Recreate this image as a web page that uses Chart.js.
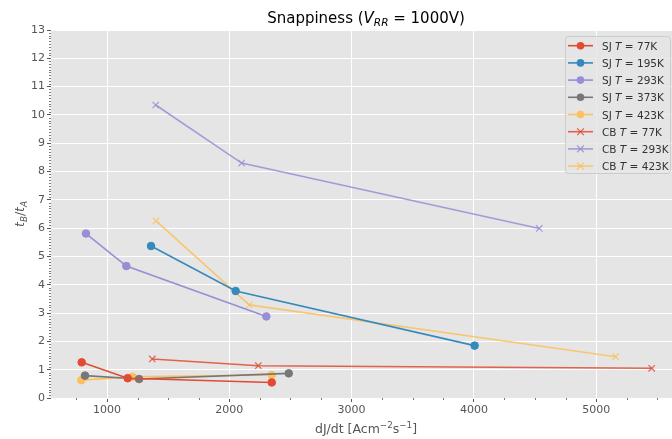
<!DOCTYPE html>
<html>
<head>
<meta charset="utf-8">
<script src="https://cdn.jsdelivr.net/npm/chart.js@4/dist/chart.umd.min.js"></script>
<style>
  body { margin: 0; background: #ffffff; overflow: hidden; }
  #wrap { width: 672px; height: 439px; }
</style>
</head>
<body>
<div id="wrap"><canvas id="snapChart" width="672" height="439"></canvas></div>
<script>
// values
var sj77X = [793, 1169, 2347],  sj77Y = [1.26, 0.70, 0.55];
var sj195X = [1360, 2052, 4006], sj195Y = [5.37, 3.78, 1.85];
var sj293X = [828, 1158, 2303], sj293Y = [5.81, 4.66, 2.88];
var sj373X = [820, 1262, 2486], sj373Y = [0.79, 0.67, 0.87];
var sj423X = [790, 1207, 2347], sj423Y = [0.63, 0.75, 0.81];
var cb77X = [1370, 2237, 5454], cb77Y = [1.38, 1.14, 1.05];
var cb293X = [1398, 2101, 4535], cb293Y = [10.35, 8.30, 5.99];
var cb423X = [1401, 2163, 5159], cb423Y = [6.26, 3.29, 1.46];

var seriesNames = ['SJ', 'SJ', 'SJ', 'SJ', 'SJ', 'CB', 'CB', 'CB'];
var seriesTemps = ['77K', '195K', '293K', '373K', '423K', '77K', '293K', '423K'];
var xTicks = [1000, 2000, 3000, 4000, 5000];

var RED = '#E24A33', BLUE = '#348ABD', PURPLE = '#988ED5', GRAY = '#777777', YELLOW = '#FBC15E';
var FONT = '"DejaVu Sans", sans-serif';

function pts(xs, ys) {
    return xs.map(function (x, i) { return { x: x, y: ys[i] }; });
}

function hexAlpha(hex, a) {
    var r = parseInt(hex.substr(1, 2), 16), g = parseInt(hex.substr(3, 2), 16), b = parseInt(hex.substr(5, 2), 16);
    return 'rgba(' + r + ',' + g + ',' + b + ',' + a + ')';
}

function makeSet(xs, ys, color, cross) {
    var c = cross ? hexAlpha(color, 0.85) : color;
    return {
        data: pts(xs, ys),
        showLine: true,
        borderColor: c,
        backgroundColor: c,
        borderWidth: 1.6,
        pointStyle: cross ? 'crossRot' : 'circle',
        pointRadius: cross ? 4.5 : 3.8,
        pointBorderWidth: cross ? 1.2 : 1,
        pointBorderColor: c,
        pointBackgroundColor: c,
        tension: 0
    };
}

var datasets = [
    makeSet(sj77X, sj77Y, RED, false),
    makeSet(sj195X, sj195Y, BLUE, false),
    makeSet(sj293X, sj293Y, PURPLE, false),
    makeSet(sj373X, sj373Y, GRAY, false),
    makeSet(sj423X, sj423Y, YELLOW, false),
    makeSet(cb77X, cb77Y, RED, true),
    makeSet(cb293X, cb293Y, PURPLE, true),
    makeSet(cb423X, cb423Y, YELLOW, true)
];

// draw a row of text pieces (italic / sub / superscript)
function richWidth(ctx, parts, size) {
    var w = 0;
    parts.forEach(function (p) {
        var s = size * (p.scale || 1);
        ctx.font = (p.italic ? 'italic ' : '') + s + 'px ' + FONT;
        w += ctx.measureText(p.t).width;
    });
    return w;
}

function drawRich(ctx, parts, x, y, size, color) {
    var w = richWidth(ctx, parts, size);
    var cx = x - w / 2;
    ctx.fillStyle = color;
    ctx.textBaseline = 'alphabetic';
    ctx.textAlign = 'left';
    parts.forEach(function (p) {
        var s = size * (p.scale || 1);
        ctx.font = (p.italic ? 'italic ' : '') + s + 'px ' + FONT;
        ctx.fillText(p.t, cx, y + (p.dy || 0) * size);
        cx += ctx.measureText(p.t).width;
    });
}

var decorPlugin = {
    id: 'decor',
    beforeDraw: function (chart) {
        var a = chart.chartArea, ctx = chart.ctx;
        ctx.save();
        ctx.fillStyle = '#E5E5E5';
        ctx.fillRect(a.left, a.top, a.right - a.left, a.bottom - a.top);
        ctx.restore();
    },
    afterDraw: function (chart) {
        var a = chart.chartArea, ctx = chart.ctx;
        var xs = chart.scales.x, ys = chart.scales.y;
        ctx.save();
        // minor ticks
        ctx.strokeStyle = '#555555';
        ctx.lineWidth = 0.8;
        ctx.beginPath();
        for (var v = 750; v <= 5500; v += 250) {
            if (v % 1000 === 0) continue;
            var px = Math.round(xs.getPixelForValue(v)) + 0.5;
            ctx.moveTo(px, a.bottom);
            ctx.lineTo(px, a.bottom + 2);
        }
        for (var k = 1; k < 130; k++) {
            if (k % 10 === 0) continue;
            var py = Math.round(ys.getPixelForValue(k / 10)) + 0.5;
            ctx.moveTo(a.left - 2, py);
            ctx.lineTo(a.left, py);
        }
        ctx.stroke();

        // title
        drawRich(ctx, [
            { t: 'Snappiness (' },
            { t: 'V', italic: true },
            { t: 'RR', italic: true, scale: 0.7, dy: 0.2 },
            { t: ' = 1000V)' }
        ], 366, 23, 15, '#000000');

        // x axis label
        drawRich(ctx, [
            { t: 'dJ/dt [Acm' },
            { t: '\u22122', scale: 0.7, dy: -0.4 },
            { t: 's' },
            { t: '\u22121', scale: 0.7, dy: -0.4 },
            { t: ']' }
        ], 366, 433, 12.5, '#555555');

        // y axis label
        ctx.save();
        ctx.translate(24, (a.top + a.bottom) / 2);
        ctx.rotate(-Math.PI / 2);
        drawRich(ctx, [
            { t: 't', italic: true },
            { t: 'B', italic: true, scale: 0.7, dy: 0.2 },
            { t: '/' },
            { t: 't', italic: true },
            { t: 'A', italic: true, scale: 0.7, dy: 0.2 }
        ], 0, 0, 12.5, '#555555');
        ctx.restore();

        // legend
        var lx = 565, ly = 36, lw = 105, lh = 137;
        ctx.fillStyle = 'rgba(229,229,229,0.8)';
        ctx.strokeStyle = '#CCCCCC';
        ctx.lineWidth = 1;
        ctx.beginPath();
        ctx.roundRect(lx + 0.5, ly + 0.5, lw, lh, 3);
        ctx.fill();
        ctx.stroke();
        datasets.forEach(function (ds, i) {
            var y = 45.7 + i * 17.2;
            ctx.strokeStyle = ds.borderColor;
            ctx.fillStyle = ds.borderColor;
            ctx.lineWidth = 1.6;
            ctx.beginPath();
            ctx.moveTo(568, y);
            ctx.lineTo(593, y);
            ctx.stroke();
            if (ds.pointStyle === 'circle') {
                ctx.beginPath();
                ctx.arc(580.5, y, ds.pointRadius, 0, Math.PI * 2);
                ctx.fill();
            } else {
                ctx.lineWidth = ds.pointBorderWidth;
                var r = ds.pointRadius * 0.75;
                ctx.beginPath();
                ctx.moveTo(580.5 - r, y - r); ctx.lineTo(580.5 + r, y + r);
                ctx.moveTo(580.5 + r, y - r); ctx.lineTo(580.5 - r, y + r);
                ctx.stroke();
            }
            var parts = [
                { t: seriesNames[i] + ' ' },
                { t: 'T', italic: true },
                { t: ' = ' + seriesTemps[i] }
            ];
            var w = richWidth(ctx, parts, 10.5);
            drawRich(ctx, parts, 602 + w / 2, y + 4, 10.5, '#333333');
        });
        ctx.restore();
    }
};

var ctx = document.getElementById('snapChart').getContext('2d');
var snapChart = new Chart(ctx, {
    type: 'scatter',
    data: { datasets: datasets },
    plugins: [decorPlugin],
    options: {
        responsive: false,
        animation: false,
        layout: { autoPadding: false, padding: { top: 30, right: 0, left: 0, bottom: 0 } },
        plugins: {
            legend: { display: false },
            tooltip: { enabled: false },
            title: { display: false }
        },
        scales: {
            x: {
                type: 'linear',
                min: 542,
                max: 5620,
                afterBuildTicks: function (scale) {
                    scale.ticks = xTicks.map(function (v) { return { value: v }; });
                },
                afterFit: function (scale) { scale.height = 41; },
                grid: { color: '#FFFFFF', lineWidth: 1, tickLength: 4, tickColor: '#555555', tickWidth: 1 },
                border: { display: false },
                ticks: {
                    color: '#555555',
                    padding: 2,
                    maxRotation: 0,
                    autoSkip: false,
                    font: { family: FONT, size: 11 },
                    callback: function (v) { return String(v); }
                }
            },
            y: {
                type: 'linear',
                min: 0,
                max: 13,
                afterFit: function (scale) { scale.width = 51; },
                grid: { color: '#FFFFFF', lineWidth: 1, tickLength: 4, tickColor: '#555555', tickWidth: 1 },
                border: { display: false },
                ticks: {
                    stepSize: 1,
                    color: '#555555',
                    padding: 2,
                    font: { family: FONT, size: 11 }
                }
            }
        }
    }
});
</script>
</body>
</html>
